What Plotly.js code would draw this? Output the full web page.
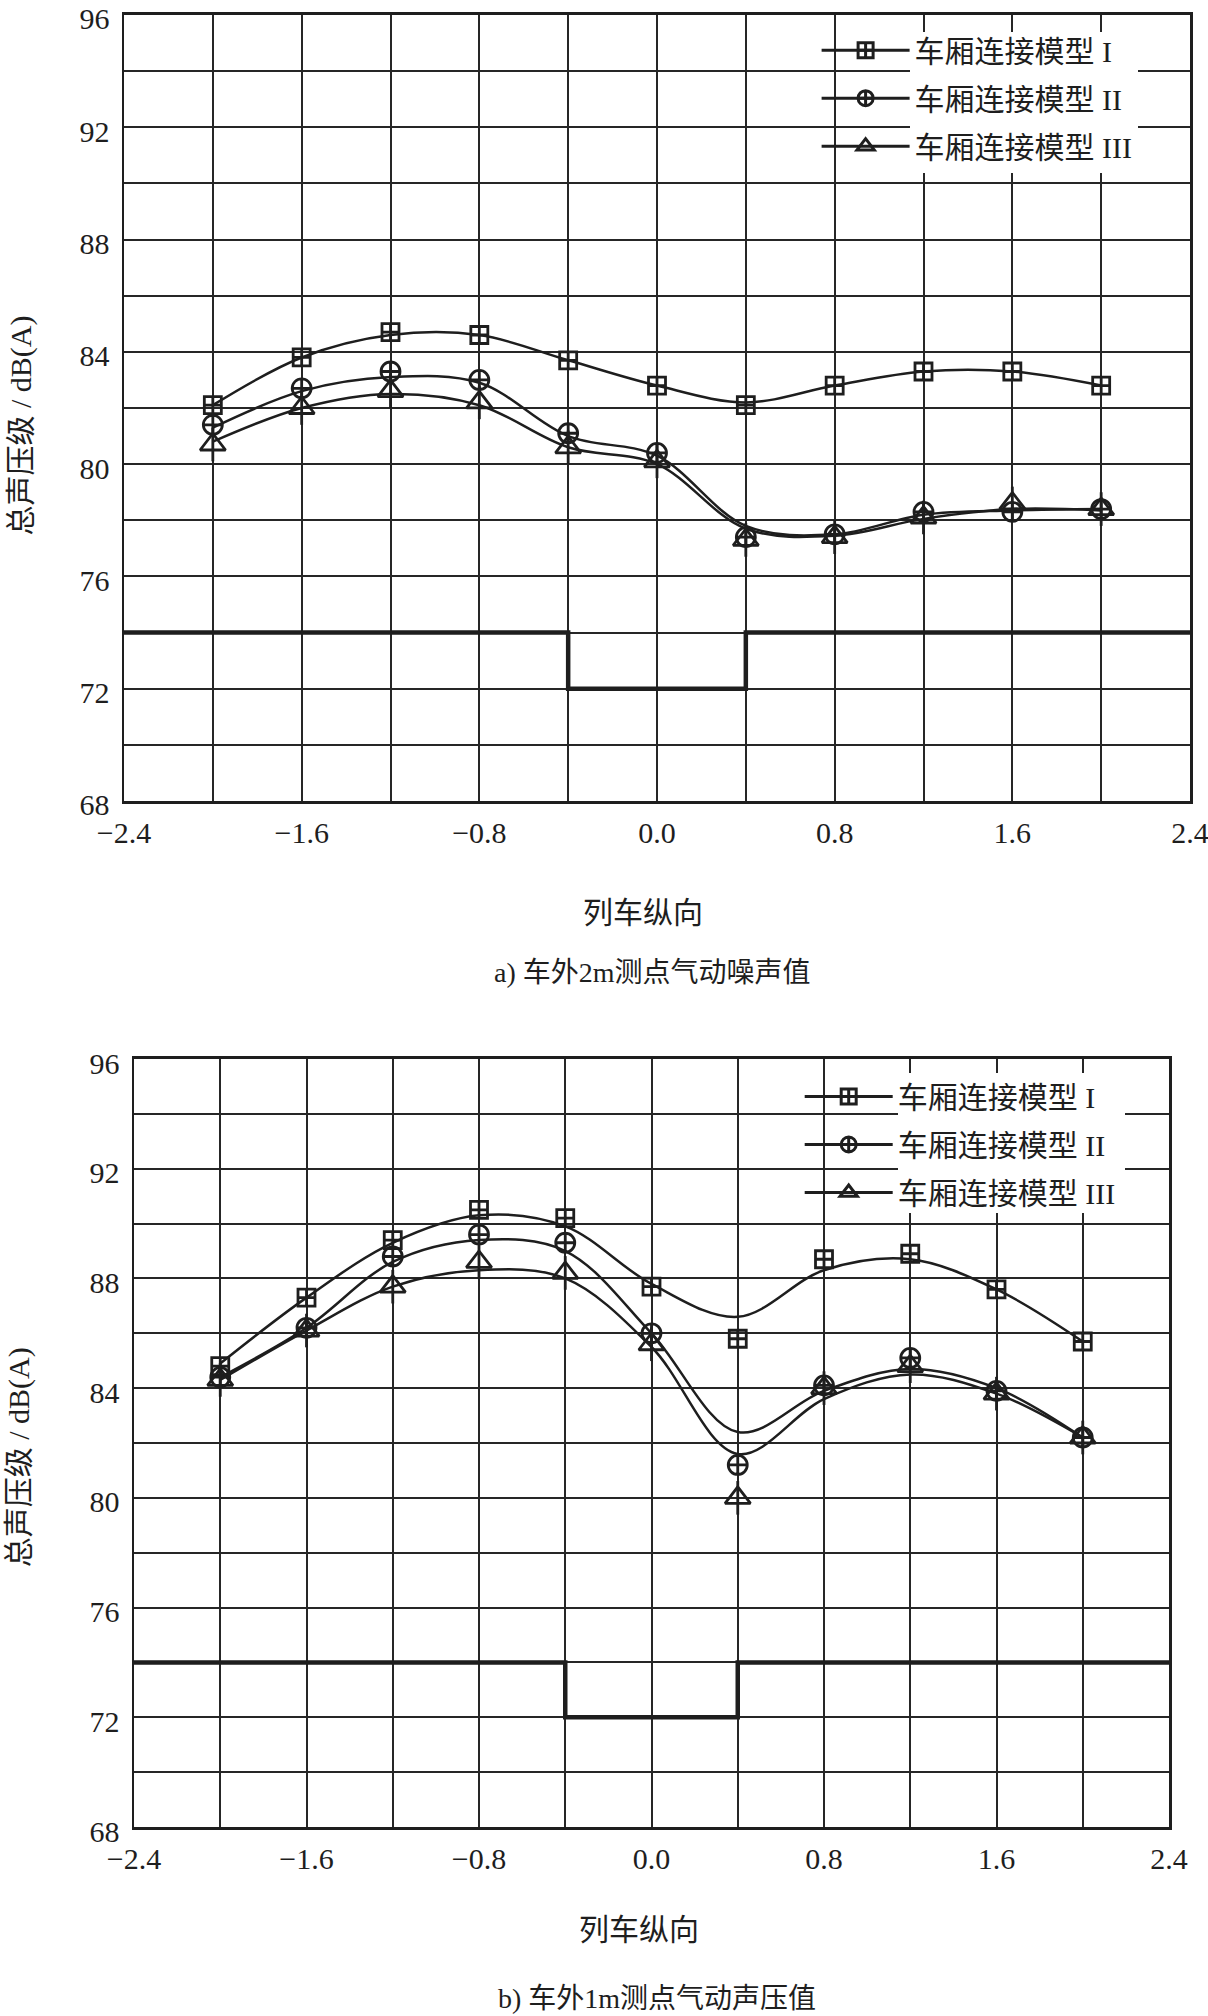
<!DOCTYPE html>
<html>
<head>
<meta charset="utf-8">
<script src="https://cdn.plot.ly/plotly-3.0.1.min.js"></script>
<style>body{margin:0;background:#fff}#plot{width:1208px;height:2016px}</style>
</head>
<body>
<div id="plot"></div>
<script>
var xs = [-2.0, -1.6, -1.2, -0.8, -0.4, 0.0, 0.4, 0.8, 1.2, 1.6, 2.0];
var names = ['车厢连接模型 I', '车厢连接模型 II', '车厢连接模型 III'];

// a) 2 m points: marker values and the fitted curve read at each x
var aM1 = [82.1, 83.8, 84.7, 84.6, 83.7, 82.8, 82.1, 82.8, 83.3, 83.3, 82.8];
var aM2 = [81.4, 82.7, 83.3, 83.0, 81.1, 80.4, 77.4, 77.5, 78.3, 78.3, 78.4];
var aM3 = [80.7, 82.0, 82.6, 82.2, 80.6, 80.1, 77.3, 77.4, 78.1, 78.6, 78.4];
var aC1 = [82.1, 83.8, 84.6, 84.6, 83.7, 82.8, 82.2, 82.8, 83.3, 83.3, 82.8];
var aC2 = [81.3, 82.6, 83.1, 82.9, 81.0, 80.3, 77.8, 77.5, 78.2, 78.35, 78.4];
var aC3 = [80.8, 82.0, 82.5, 82.1, 80.6, 80.0, 77.7, 77.45, 78.05, 78.4, 78.35];

// b) 1 m points
var bM1 = [84.8, 87.3, 89.4, 90.5, 90.2, 87.7, 85.8, 88.7, 88.9, 87.6, 85.7];
var bM2 = [84.4, 86.2, 88.8, 89.6, 89.3, 86.0, 81.2, 84.1, 85.1, 83.9, 82.2];
var bM3 = [84.3, 86.1, 87.7, 88.6, 88.2, 85.6, 80.0, 84.0, 84.8, 83.8, 82.2];
var bC1 = [84.9, 87.3, 89.3, 90.3, 89.9, 87.8, 86.6, 88.3, 88.7, 87.6, 85.7];
var bC2 = [84.4, 86.2, 88.6, 89.4, 89.0, 86.0, 82.4, 83.9, 84.7, 84.0, 82.2];
var bC3 = [84.3, 86.1, 87.7, 88.3, 88.0, 85.5, 81.6, 83.6, 84.5, 83.8, 82.2];

// limit step line
var stepX = [-2.4, -0.4, 0.4, 2.4];
var stepY = [74, 72, 74, 74];

var ink = '#1e1e1e';
var serif = 'Liberation Serif, Noto Sans CJK SC, serif';
var symbols = ['square-cross-open', 'circle-cross-open', 'triangle-up-open'];
var sizes = [17, 19, 22];

function curve(x, y, xa, ya) {
  return {x: x, y: y, xaxis: xa, yaxis: ya, mode: 'lines', type: 'scatter',
    line: {color: ink, width: 2.5, shape: 'spline', smoothing: 1}, showlegend: false, hoverinfo: 'skip'};
}
function marks(x, y, i, xa, ya) {
  return {x: x, y: y, xaxis: xa, yaxis: ya, mode: 'markers', type: 'scatter', showlegend: false,
    marker: {symbol: symbols[i], size: sizes[i], color: ink, line: {color: ink, width: 2.8}}};
}
function stem(x, y, xa, ya) {
  return {x: x, y: y, xaxis: xa, yaxis: ya, mode: 'markers', type: 'scatter', showlegend: false,
    marker: {symbol: 'line-ns-open', size: 24, color: ink, line: {color: ink, width: 2.8}}};
}
function legendItem(i, xa, ya, lg) {
  return {x: [null], y: [null], xaxis: xa, yaxis: ya, name: names[i], legend: lg,
    legendgroup: lg + i, mode: 'lines+markers', type: 'scatter',
    line: {color: ink, width: 3},
    marker: {symbol: symbols[i], size: 15, color: ink, line: {color: ink, width: 3}}};
}
function step(xa, ya) {
  return {x: stepX, y: stepY, xaxis: xa, yaxis: ya, mode: 'lines', type: 'scatter',
    line: {color: ink, width: 4.5, shape: 'hv'}, showlegend: false};
}

var traces = [
  step('x', 'y'),
  curve(xs, aC1, 'x', 'y'), curve(xs, aC2, 'x', 'y'), curve(xs, aC3, 'x', 'y'),
  marks(xs, aM1, 0, 'x', 'y'), marks(xs, aM2, 1, 'x', 'y'), marks(xs, aM3, 2, 'x', 'y'), stem(xs, aM3, 'x', 'y'),
  legendItem(0, 'x', 'y', 'legend'), legendItem(1, 'x', 'y', 'legend'), legendItem(2, 'x', 'y', 'legend'),
  step('x2', 'y2'),
  curve(xs, bC1, 'x2', 'y2'), curve(xs, bC2, 'x2', 'y2'), curve(xs, bC3, 'x2', 'y2'),
  marks(xs, bM1, 0, 'x2', 'y2'), marks(xs, bM2, 1, 'x2', 'y2'), marks(xs, bM3, 2, 'x2', 'y2'), stem(xs, bM3, 'x2', 'y2'),
  legendItem(0, 'x2', 'y2', 'legend2'), legendItem(1, 'x2', 'y2', 'legend2'), legendItem(2, 'x2', 'y2', 'legend2')
];

var grid = '#262626';
function xax(dom, anchor) {
  return {domain: dom, anchor: anchor, range: [-2.4, 2.4], tick0: -2.4, dtick: 0.8, tickformat: '.1f',
    showgrid: true, gridcolor: grid, gridwidth: 2, zeroline: false,
    showline: true, mirror: true, linecolor: ink, linewidth: 3, ticks: '',
    ticklabelstandoff: 3, ticklabeloverflow: 'allow', tickfont: {family: serif, size: 30, color: ink},
    minor: {tick0: -2.4, dtick: 0.4, showgrid: true, gridcolor: grid, gridwidth: 2}};
}
function yax(dom, anchor) {
  return {domain: dom, anchor: anchor, range: [68, 96], tick0: 68, dtick: 4,
    showgrid: true, gridcolor: grid, gridwidth: 2, zeroline: false,
    showline: true, mirror: true, linecolor: ink, linewidth: 2.5, ticks: '',
    ticklabelstandoff: 6, ticklabelshift: 4, ticklabeloverflow: 'allow',
    tickfont: {family: serif, size: 30, color: ink},
    minor: {dtick: 2, showgrid: true, gridcolor: grid, gridwidth: 2}};
}
function txt(s, x, y, size, angle) {
  return {text: s, xref: 'paper', yref: 'paper', x: x, y: y, showarrow: false,
    xanchor: 'center', yanchor: 'middle', textangle: angle || 0,
    font: {family: serif, size: size, color: ink}};
}
// white patch behind the legend text, as in the source figure
function cover(x0, x1, y0, y1) {
  return {type: 'rect', xref: 'paper', yref: 'paper', x0: x0, x1: x1, y0: y0, y1: y1,
    fillcolor: '#fff', line: {width: 0}, layer: 'above'};
}

var legendFont = {family: serif, size: 30, color: ink};
var layout = {
  width: 1208, height: 2016,
  margin: {l: 0, r: 0, t: 0, b: 0},
  paper_bgcolor: '#fff', plot_bgcolor: '#fff',
  xaxis: xax([0.10265, 0.98510], 'y'),
  yaxis: yax([0.60268, 0.99256], 'x'),
  xaxis2: xax([0.11093, 0.96772], 'y2'),
  yaxis2: yax([0.09375, 0.47470], 'x2'),
  legend: {x: 0.676, y: 0.988, xanchor: 'left', yanchor: 'top', bgcolor: 'rgba(0,0,0,0)',
    font: legendFont, itemwidth: 88, tracegroupgap: 6},
  legend2: {x: 0.662, y: 0.469, xanchor: 'left', yanchor: 'top', bgcolor: 'rgba(0,0,0,0)',
    font: legendFont, itemwidth: 88, tracegroupgap: 6},
  shapes: [
    cover(910 / 1208, 1138 / 1208, 1 - 173 / 2016, 1 - 32 / 2016),
    cover(898 / 1208, 1125 / 1208, 1 - 1213 / 2016, 1 - 1073 / 2016)
  ],
  annotations: [
    txt('列车纵向', 0.532, 0.5476, 30),
    txt('a) 车外2m测点气动噪声值', 0.540, 0.5174, 28),
    txt('总声压级 / dB(A)', 0.017, 0.7887, 30, -90),
    txt('列车纵向', 0.529, 0.0427, 30),
    txt('b) 车外1m测点气动声压值', 0.544, 0.0089, 28),
    txt('总声压级 / dB(A)', 0.016, 0.2773, 30, -90)
  ],
  showlegend: true
};

Plotly.newPlot('plot', traces, layout, {staticPlot: true});
</script>
</body>
</html>
